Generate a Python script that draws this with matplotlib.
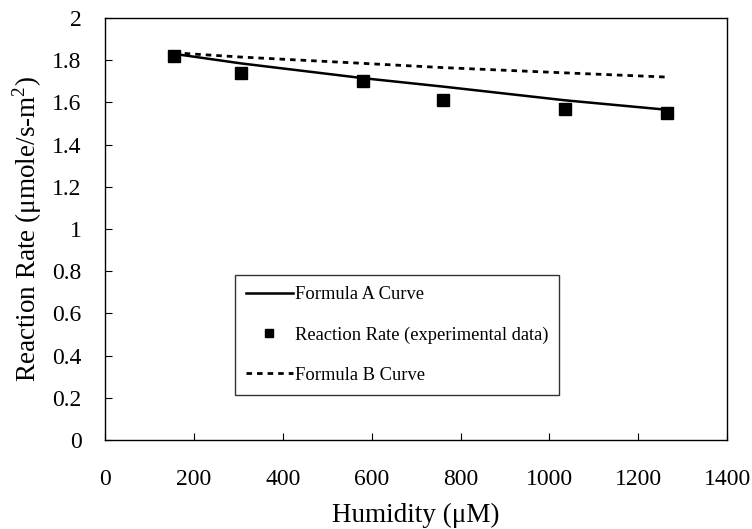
import matplotlib
matplotlib.use('Agg')
import matplotlib.pyplot as plt
import numpy as np

# data
humidity = [155, 305, 580, 760, 1035, 1265]
rate_exp = [1.82, 1.74, 1.70, 1.61, 1.57, 1.55]
formula_a = [1.83, 1.785, 1.715, 1.675, 1.61, 1.565]
formula_b = [1.835, 1.815, 1.785, 1.765, 1.74, 1.72]

plt.rcParams['font.family'] = ['Liberation Serif', 'DejaVu Serif']
plt.rcParams['mathtext.fontset'] = 'custom'
plt.rcParams['mathtext.rm'] = 'Liberation Serif'

fig = plt.figure(figsize=(7.52, 5.29), dpi=100)
ax = fig.add_axes([0.14, 0.168, 0.827, 0.798])

ax.plot(humidity, formula_a, color='black', lw=1.8, label='Formula A Curve')
ax.plot(humidity, rate_exp, 's', color='black', ms=8, linestyle='none',
        label='Reaction Rate (experimental data)')
ax.plot(humidity, formula_b, color='black', lw=2, linestyle=(0, (2, 1.8)),
        label='Formula B Curve')

ax.set_xlim(0, 1400)
ax.set_ylim(0, 2)
ax.set_xticks(np.arange(0, 1401, 200))
ax.set_yticks(np.arange(0, 2.01, 0.2))
ax.set_yticklabels(['0', '0.2', '0.4', '0.6', '0.8', '1', '1.2', '1.4', '1.6', '1.8', '2'])
ax.tick_params(direction='in', labelsize=17, length=5, width=0.8)
ax.tick_params(axis='x', pad=21)
ax.tick_params(axis='y', pad=17)
for s in ax.spines.values():
    s.set_linewidth(1.0)

ax.set_xlabel('Humidity (\u03bcM)', fontsize=19.5, labelpad=9)
ax.set_ylabel('Reaction Rate (\u03bcmole/s-m$^\\mathrm{2}$)', fontsize=19.5, labelpad=6)

leg = ax.legend(loc='lower left', bbox_to_anchor=(0.208, 0.107), fontsize=13.3,
                frameon=True, fancybox=False, edgecolor='black', handlelength=2.55,
                handletextpad=0.1, borderpad=0.6, labelspacing=1.25, borderaxespad=0,
                markerscale=0.75)
leg.get_frame().set_linewidth(1.0)

fig.savefig('out.png', dpi=100)
